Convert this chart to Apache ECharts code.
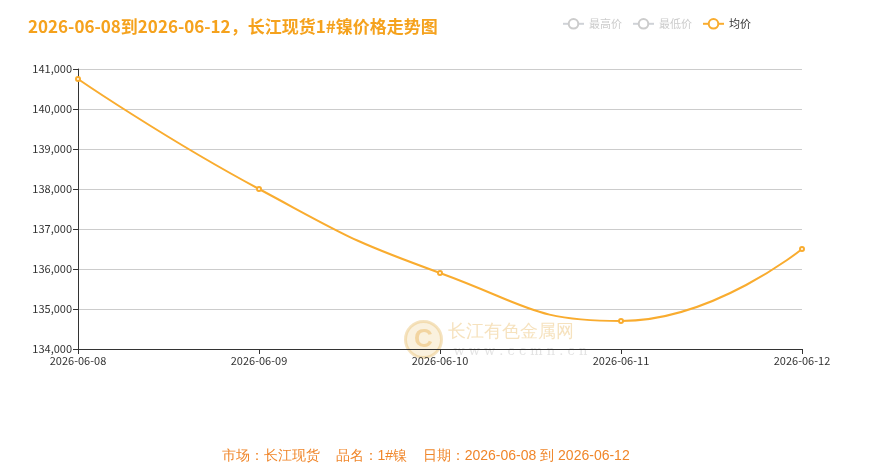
<!DOCTYPE html>
<html>
<head>
<meta charset="utf-8">
<script src="https://cdn.jsdelivr.net/npm/echarts@6/dist/echarts.min.js"></script>
<style>
  html, body { margin: 0; padding: 0; background: #fff; }
  #chart { width: 885px; height: 470px; }
</style>
</head>
<body>
<div id="chart"></div>
<script>
// 日期
var dates = ['2026-06-08', '2026-06-09', '2026-06-10', '2026-06-11', '2026-06-12'];
// 均价
var avgPrice = [140750, 138000, 135900, 134700, 136500];
// 最高价 / 最低价 在图中未选中，无数据显示
var highPrice = [];
var lowPrice = [];

var orange = '#f9ac2f';

var chart = echarts.init(document.getElementById('chart'));
chart.setOption({
  textStyle: { fontFamily: 'Microsoft YaHei, "Noto Sans CJK SC", sans-serif' },
  title: {
    text: '2026-06-08到2026-06-12，长江现货1#镍价格走势图',
    left: 23,
    top: 13,
    textStyle: { color: '#f5a21d', fontSize: 17, fontWeight: 'bold' }
  },
  legend: {
    data: ['最高价', '最低价', '均价'],
    left: 557,
    top: 13,
    itemWidth: 21,
    itemHeight: 12,
    itemGap: 10,
    selected: { '最高价': false, '最低价': false, '均价': true },
    textStyle: { fontSize: 11, color: '#333' },
    inactiveColor: '#ccc'
  },
  grid: { left: 78, right: 83, top: 69, bottom: 121 },
  xAxis: {
    type: 'category',
    boundaryGap: false,
    data: dates,
    axisLine: { lineStyle: { color: '#333' } },
    axisTick: { alignWithLabel: true },
    axisLabel: { color: '#333', fontSize: 11, margin: 6 }
  },
  yAxis: {
    type: 'value',
    min: 134000,
    max: 141000,
    interval: 1000,
    axisLine: { show: true, lineStyle: { color: '#333' } },
    axisTick: { show: true },
    axisLabel: { color: '#333', fontSize: 11, margin: 6 },
    splitLine: { lineStyle: { color: '#ccc' } }
  },
  graphic: [
    {
      type: 'group', left: 404, top: 320, silent: true,
      children: [
        { type: 'circle', shape: { cx: 20, cy: 20, r: 18 }, style: { fill: 'rgba(240,215,160,0.35)', stroke: 'rgba(235,200,130,0.5)', lineWidth: 3 } },
        { type: 'text', style: { x: 20, y: 20, text: 'C', align: 'center', verticalAlign: 'middle', fontSize: 26, fontWeight: 'bold', fill: 'rgba(235,190,110,0.55)' } },
        { type: 'text', style: { x: 44, y: 4, text: '长江有色金属网', fontSize: 18, fill: 'rgba(235,190,110,0.45)' } },
        { type: 'text', style: { x: 50, y: 26, text: 'w w w . c c m n . c n', fontSize: 13, fontFamily: 'DejaVu Serif', fill: 'rgba(200,200,200,0.5)' } }
      ]
    },
    {
      type: 'text', left: 222, top: 449,
      style: { text: '市场：长江现货    品名：1#镍    日期：2026-06-08 到 2026-06-12', fontSize: 14, fill: '#f0862a' }
    }
  ],
  series: [
    { name: '最高价', type: 'line', smooth: true, data: highPrice, itemStyle: { color: '#e8c072' } },
    { name: '最低价', type: 'line', smooth: true, data: lowPrice, itemStyle: { color: '#e8c072' } },
    {
      name: '均价',
      type: 'line',
      smooth: true,
      symbol: 'emptyCircle',
      symbolSize: 4,
      data: avgPrice,
      itemStyle: { color: orange },
      lineStyle: { color: orange, width: 2 }
    }
  ]
});
</script>
</body>
</html>
